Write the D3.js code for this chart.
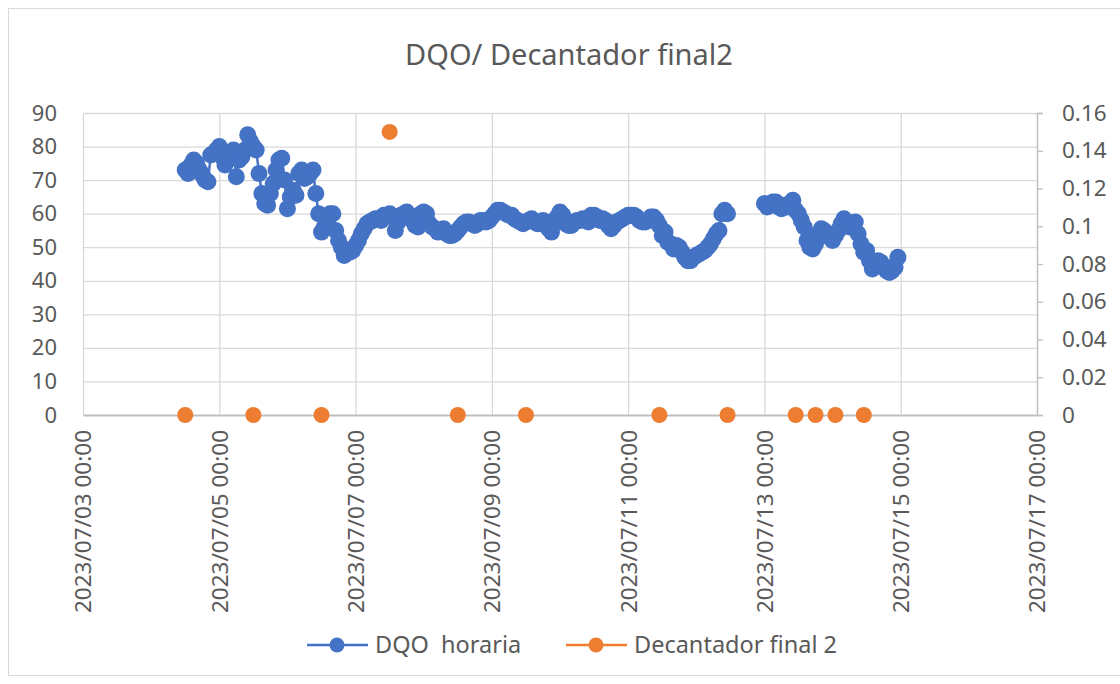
<!DOCTYPE html>
<html>
<head>
<meta charset="utf-8">
<script src="https://cdn.jsdelivr.net/npm/d3@7"></script>
<style>
  body { margin: 0; background: #fff; }
  text { font-family: "Noto Sans", "DejaVu Sans", sans-serif; fill: #595959; }
</style>
</head>
<body>
<div id="chart"></div>
<script>
// DQO horaria: hourly readings starting 2023/07/04 12:00 (null = no data)
const dqoStart = '2023-07-04T12:00:00';
const dqoStepHours = 1;
const dqoValues = [
  73, 72, 74.5, 76, 75, 73, 71.5, 70, 69.5, 77.5,
  78, 79, 80, 77, 74.5, 76, 78, 79, 71, 76,
  77, 79, 83.5, 81.5, 80, 79, 72, 66, 63, 62.5,
  66, 69, 73, 76, 76.5, 70, 61.5, 65, 67, 65.5,
  72, 73, 70.5, 71, 72, 73, 66, 60, 54.5, 56,
  58, 60, 60, 55, 52, 50, 47.5, 49, 48.5, 49,
  50.5, 52, 54, 55.5, 57, 57.5, 58, 58.5, 58.5, 58,
  59.5, 59.5, 60, 59, 55, 57.5, 59.5, 60, 60.5, 59,
  58, 56.5, 56, 60, 60.5, 60, 57, 56, 55.5, 54.5,
  55, 55.5, 54, 53.5, 53.5, 54, 55, 56, 57, 57.5,
  57.5, 57, 56.5, 57, 58, 58, 57.5, 58, 59, 60,
  61, 61, 60.5, 60, 59.5, 59.5, 58.5, 58, 57.5, 57,
  57.5, 58, 58.5, 57.5, 57, 57, 58, 57, 55.5, 54.5,
  57, 59, 60.5, 59.5, 57, 56.5, 56.5, 57.5, 58, 58,
  58.5, 58, 57.5, 59.5, 59.5, 59, 58, 58.5, 58, 56.5,
  55.5, 56.5, 57.5, 58, 58.5, 59, 59.5, 59.5, 59.5, 59,
  58, 57.5, 57.5, 58, 59, 59, 58, 56.5, 53.5, 54.5,
  51.5, 51, 49.5, 50.5, 50, 48.5, 47, 46, 46, 47,
  47.5, 48, 48.5, 49, 50, 51, 52.5, 54, 55, 60,
  61, 60, null, null, null, null, null, null, null, null,
  null, null, null, null, 63, 62, 62.5, 63.5, 63.5, 62,
  61.5, 62.5, 62, 63, 64, 61, 60, 58, 56, 52,
  50, 49.5, 51, 54, 55.5, 55, 54, 53, 52, 53.5,
  55, 57, 58.5, 57.5, 56, 56.5, 57.5, 54, 51, 48.5,
  49, 46, 43.5, 45, 46, 45.5, 44.5, 43, 42.5, 43,
  44, 47
];

// Decantador final 2 (right axis)
const decTimes = [
  '2023-07-04T12:00', '2023-07-05T12:00', '2023-07-06T12:00', '2023-07-07T12:00',
  '2023-07-08T12:00', '2023-07-09T12:00', '2023-07-11T11:00', '2023-07-12T11:00',
  '2023-07-13T11:00', '2023-07-13T18:00', '2023-07-14T01:00', '2023-07-14T11:00'
];
const decValues = [0, 0, 0, 0.15, 0, 0, 0, 0, 0, 0, 0, 0];

const leftTicks = [0, 10, 20, 30, 40, 50, 60, 70, 80, 90];
const rightTicks = [0, 0.02, 0.04, 0.06, 0.08, 0.1, 0.12, 0.14, 0.16];
const xTicks = ['2023-07-03', '2023-07-05', '2023-07-07', '2023-07-09',
                '2023-07-11', '2023-07-13', '2023-07-15', '2023-07-17'];

const titleText = 'DQO/ Decantador final2';
const seriesNames = ['DQO  horaria', 'Decantador final 2'];
const colors = ['#4472c4', '#ed7d31'];

const W = 1120, H = 684;
const plot = { left: 83, right: 1037, top: 113, bottom: 415 };
const markerR = 8.5;

const parse = s => new Date(s);
const dqoData = dqoValues.map((v, i) => ({
  t: d3.timeHour.offset(parse(dqoStart), i * dqoStepHours), v: v
}));
const decData = decTimes.map((t, i) => ({ t: parse(t), v: decValues[i] }));

let x = d3.scaleTime()
  .domain([parse(xTicks[0] + 'T00:00'), parse(xTicks[xTicks.length - 1] + 'T00:00')])
  .range([plot.left, plot.right]);
let yL = d3.scaleLinear().domain([0, 90]).range([plot.bottom, plot.top]);
let yR = d3.scaleLinear().domain([0, 0.16]).range([plot.bottom, plot.top]);

let svg = d3.select('#chart').append('svg')
  .attr('width', W)
  .attr('height', H);

/* chart frame */
svg.append('rect')
  .attr('x', 8.5).attr('y', 8.5)
  .attr('width', W).attr('height', 667)
  .attr('fill', '#fff')
  .attr('stroke', '#d9d9d9');

/* title */
svg.append('text')
  .attr('x', 569).attr('y', 65)
  .attr('text-anchor', 'middle')
  .style('font-size', '29px')
  .text(titleText);

/* horizontal grid */
svg.append('g')
  .attr('transform', 'translate(' + plot.left + ',0)')
  .call(d3.axisLeft(yL).tickValues(leftTicks.slice(1)).tickSize(-(plot.right - plot.left)).tickFormat(''))
  .call(g => g.select('.domain').remove())
  .call(g => g.selectAll('line').attr('stroke', '#d9d9d9').attr('stroke-width', 1.3));

/* vertical grid */
const xTickDates = xTicks.map(d => parse(d + 'T00:00'));
svg.append('g')
  .attr('transform', 'translate(0,' + plot.bottom + ')')
  .call(d3.axisBottom(x).tickValues(xTickDates).tickSize(-(plot.bottom - plot.top)).tickFormat(''))
  .call(g => g.select('.domain').remove())
  .call(g => g.selectAll('line').attr('stroke', '#d9d9d9').attr('stroke-width', 1.3));

/* left axis labels */
svg.append('g')
  .attr('transform', 'translate(' + plot.left + ',0)')
  .call(d3.axisLeft(yL).tickValues(leftTicks).tickSize(0).tickPadding(26))
  .call(g => g.select('.domain').remove())
  .call(g => g.selectAll('text').style('font-size', '22px').attr('fill', '#595959'));

/* right axis */
svg.append('g')
  .attr('transform', 'translate(' + plot.right + ',0)')
  .call(d3.axisRight(yR).tickValues(rightTicks).tickSize(6).tickPadding(19).tickFormat(d3.format('~g')))
  .call(g => g.select('.domain').attr('stroke', '#bfbfbf').attr('stroke-width', 1.3))
  .call(g => g.selectAll('line').attr('stroke', '#bfbfbf').attr('stroke-width', 1.3))
  .call(g => g.selectAll('text').style('font-size', '22.5px').attr('fill', '#595959'));

/* x axis */
svg.append('g')
  .attr('transform', 'translate(0,' + plot.bottom + ')')
  .call(d3.axisBottom(x).tickValues(xTickDates).tickSize(0).tickFormat(d3.timeFormat('%Y/%m/%d %H:%M')))
  .call(g => g.select('.domain').attr('stroke', '#bfbfbf').attr('stroke-width', 2))
  .call(g => g.selectAll('text')
    .style('font-size', '22.5px')
    .attr('fill', '#595959')
    .attr('text-anchor', 'end')
    .attr('transform', 'rotate(-90)')
    .attr('x', -15).attr('y', 0).attr('dy', '0.35em'));

/* DQO horaria line + markers */
let line = d3.line()
  .defined(d => d.v !== null)
  .x(d => x(d.t))
  .y(d => yL(d.v));

svg.append('path')
  .datum(dqoData)
  .attr('fill', 'none')
  .attr('stroke', colors[0])
  .attr('stroke-width', 2.5)
  .attr('d', line);

svg.append('g')
  .selectAll('circle')
  .data(dqoData.filter(d => d.v !== null))
  .join('circle')
  .attr('cx', d => x(d.t))
  .attr('cy', d => yL(d.v))
  .attr('r', markerR)
  .attr('fill', colors[0]);

/* Decantador final 2 markers */
svg.append('g')
  .selectAll('circle')
  .data(decData)
  .join('circle')
  .attr('cx', d => x(d.t))
  .attr('cy', d => yR(d.v))
  .attr('r', markerR - 0.5)
  .attr('fill', colors[1]);

/* legend */
const legendX = [307, 566];
let legend = svg.append('g').attr('transform', 'translate(0,645)');
seriesNames.forEach((name, i) => {
  let g = legend.append('g').attr('transform', 'translate(' + legendX[i] + ',0)');
  g.append('line')
    .attr('x1', 0).attr('x2', 61)
    .attr('stroke', colors[i]).attr('stroke-width', 2.5);
  g.append('circle')
    .attr('cx', 30).attr('r', 7.5)
    .attr('fill', colors[i]);
  g.append('text')
    .attr('x', 68).attr('dy', '0.35em')
    .attr('xml:space', 'preserve')
    .style('white-space', 'pre')
    .style('font-size', '23.5px')
    .text(name);
});
</script>
</body>
</html>
